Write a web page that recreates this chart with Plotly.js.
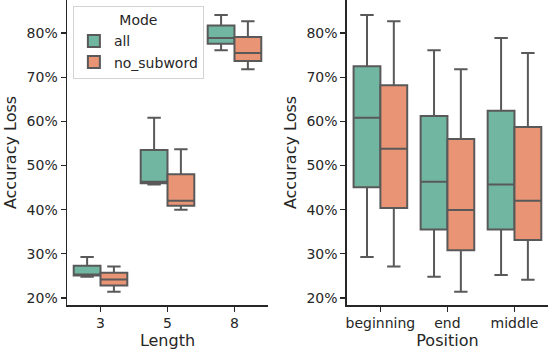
<!DOCTYPE html>
<html>
<head>
<meta charset="utf-8">
<script src="https://cdn.plot.ly/plotly-3.0.1.min.js"></script>
<style>
  body { margin: 0; }
  #chart { width: 548px; height: 354px; }
</style>
</head>
<body>
<div id="chart"></div>
<script>
// categories
var lengths = ["3", "5", "8"];
var positions = ["beginning", "end", "middle"];

// box stats by length (fractions)
var lenAllLow = [0.248, 0.457, 0.761];
var lenAllQ1 = [0.251, 0.460, 0.776];
var lenAllMed = [0.253, 0.463, 0.789];
var lenAllQ3 = [0.273, 0.535, 0.817];
var lenAllHigh = [0.293, 0.608, 0.841];

var lenNoLow = [0.214, 0.400, 0.718];
var lenNoQ1 = [0.228, 0.409, 0.737];
var lenNoMed = [0.242, 0.420, 0.755];
var lenNoQ3 = [0.257, 0.480, 0.791];
var lenNoHigh = [0.271, 0.537, 0.827];

// box stats by position (fractions)
var posAllLow = [0.293, 0.248, 0.252];
var posAllQ1 = [0.451, 0.355, 0.355];
var posAllMed = [0.608, 0.463, 0.457];
var posAllQ3 = [0.725, 0.612, 0.624];
var posAllHigh = [0.841, 0.761, 0.789];

var posNoLow = [0.271, 0.214, 0.241];
var posNoQ1 = [0.404, 0.308, 0.331];
var posNoMed = [0.538, 0.399, 0.420];
var posNoQ3 = [0.682, 0.560, 0.587];
var posNoHigh = [0.827, 0.718, 0.755];

var green = "#71b6a1";
var orange = "#e99575";
var edge = "#595959";

function boxTrace(name, x, low, q1, med, q3, high, color, xa, ya, show) {
  return {
    type: "box",
    name: name,
    legendgroup: name,
    offsetgroup: name,
    showlegend: show,
    x: x,
    lowerfence: low,
    q1: q1,
    median: med,
    q3: q3,
    upperfence: high,
    fillcolor: color,
    line: {color: edge, width: 2},
    whiskerwidth: 0.5,
    xaxis: xa,
    yaxis: ya
  };
}

var data = [
  boxTrace("all", lengths, lenAllLow, lenAllQ1, lenAllMed, lenAllQ3, lenAllHigh, green, "x", "y", true),
  boxTrace("no_subword", lengths, lenNoLow, lenNoQ1, lenNoMed, lenNoQ3, lenNoHigh, orange, "x", "y", true),
  boxTrace("all", positions, posAllLow, posAllQ1, posAllMed, posAllQ3, posAllHigh, green, "x2", "y2", false),
  boxTrace("no_subword", positions, posNoLow, posNoQ1, posNoMed, posNoQ3, posNoHigh, orange, "x2", "y2", false)
];

var tickfont = {family: "DejaVu Sans", size: 14, color: "#262626"};
var titlefont = {family: "DejaVu Sans", size: 16, color: "#262626"};

function xAxis(title, domain, anchor) {
  return {
    type: "category",
    domain: domain,
    anchor: anchor,
    range: [-0.5, 2.5],
    showline: true, linecolor: "#262626", linewidth: 1.5,
    ticks: "outside", ticklen: 5, tickwidth: 1.25, tickcolor: "#262626",
    showgrid: false, zeroline: false,
    tickfont: tickfont,
    title: {text: title, font: titlefont, standoff: 2}
  };
}

function yAxis(anchor) {
  return {
    anchor: anchor,
    range: [0.184, 0.875],
    tickvals: [0.2, 0.3, 0.4, 0.5, 0.6, 0.7, 0.8],
    tickformat: ".0%",
    showline: true, linecolor: "#262626", linewidth: 1.5,
    ticks: "outside", ticklen: 5, tickwidth: 1.25, tickcolor: "#262626",
    showgrid: false, zeroline: false,
    tickfont: tickfont,
    title: {text: "Accuracy Loss", font: titlefont, standoff: 6}
  };
}

var layout = {
  width: 548,
  height: 354,
  margin: {l: 0, r: 0, t: 0, b: 49},
  paper_bgcolor: "white",
  plot_bgcolor: "white",
  boxmode: "group",
  boxgap: 0.2,
  boxgroupgap: 0,
  xaxis: xAxis("Length", [0.1223, 0.489], "y"),
  yaxis: yAxis("x"),
  xaxis2: xAxis("Position", [0.633, 1.0], "y2"),
  yaxis2: yAxis("x2"),
  legend: {
    x: 0.133, y: 0.98, xanchor: "left", yanchor: "top",
    bgcolor: "rgba(255,255,255,0.8)",
    bordercolor: "#d4d4d4", borderwidth: 1,
    font: {family: "DejaVu Sans", size: 14, color: "#262626"},
    title: {text: "Mode", side: "top center", font: {family: "DejaVu Sans", size: 14, color: "#262626"}},
    tracegroupgap: 0
  }
};

Plotly.newPlot("chart", data, layout, {displayModeBar: false, staticPlot: true});
</script>
</body>
</html>
